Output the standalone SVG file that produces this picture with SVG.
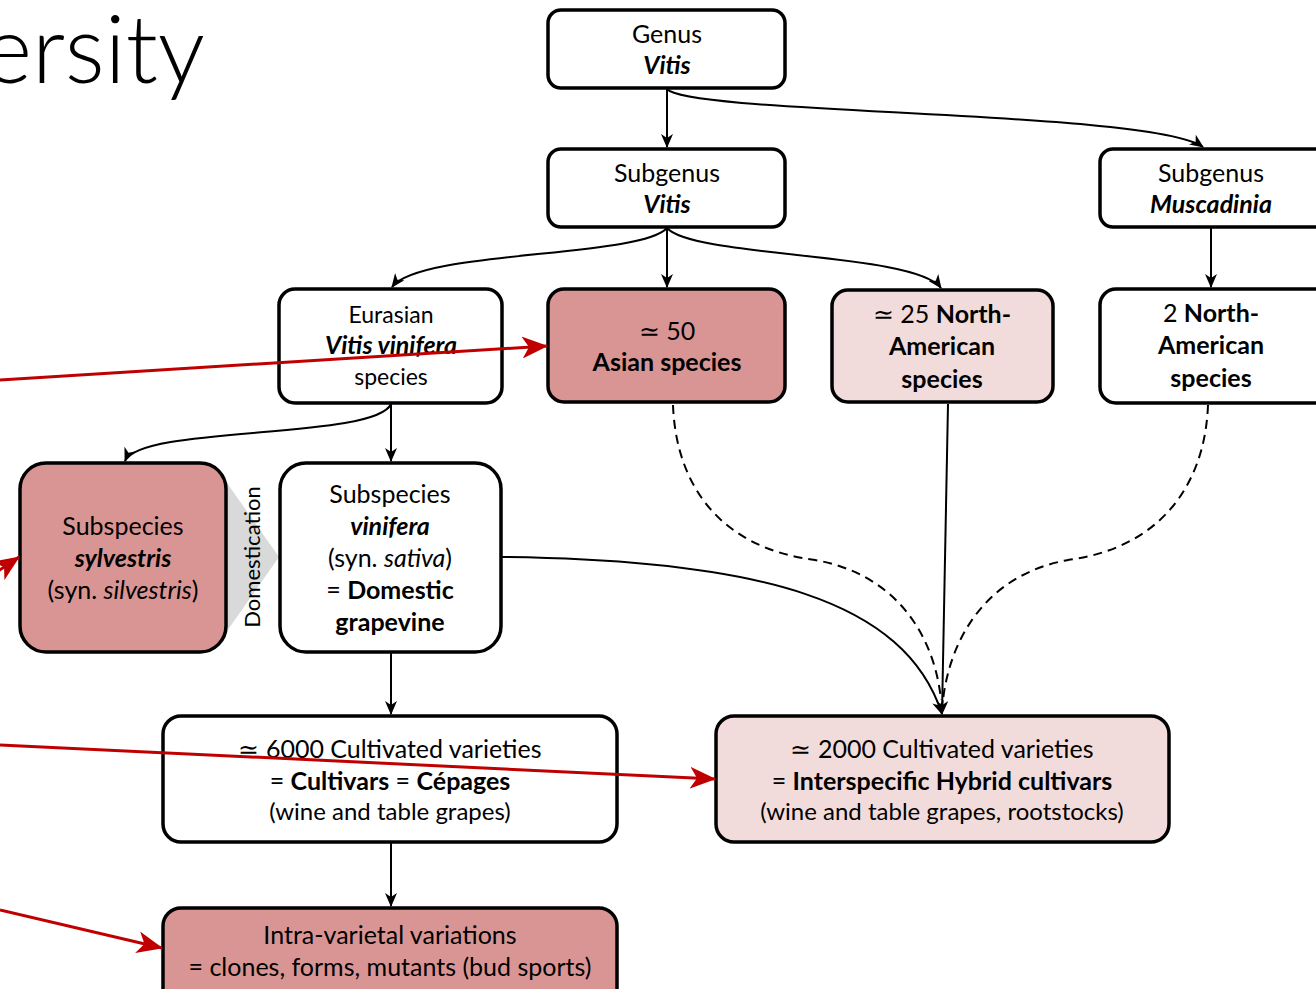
<svg xmlns="http://www.w3.org/2000/svg" width="1316" height="989" viewBox="0 0 1316 989">
<style>
.box{stroke:#000;stroke-width:3.5;}
.w{fill:#fff}.r{fill:#d99594}.p{fill:#f2dcdb}
text{font-family:Lato,"Open Sans","Liberation Sans",sans-serif;font-size:25px;fill:#000;text-anchor:middle}
.b{font-weight:bold}.i{font-style:italic}.s{font-size:23px}.m{font-size:24px}
.c{fill:none;stroke:#000;stroke-width:2}
.d{fill:none;stroke:#000;stroke-width:2;stroke-dasharray:9 6}
.red{fill:none;stroke:#c00000;stroke-width:3}
</style>
<defs>
<marker id="ah" markerUnits="userSpaceOnUse" markerWidth="14" markerHeight="12" refX="13" refY="6" orient="auto" viewBox="0 0 14 12"><path d="M0,0 L14,6 L0,12 L4,6 z" fill="#000"/></marker>
<marker id="rh" markerUnits="userSpaceOnUse" markerWidth="26" markerHeight="22" refX="25" refY="11" orient="auto" viewBox="0 0 26 22"><path d="M0,0 L26,11 L0,22 L7,11 z" fill="#c00000"/></marker>
</defs>
<rect width="1316" height="989" fill="#fff"/>
<text x="205" y="83" style="font-size:94px;font-weight:300;text-anchor:end">ersity</text>

<g id="domestication">
<path d="M227,483 L279,557 L227,631 z" fill="#d9d9d9"/>
<text transform="translate(260,557) rotate(-90)" style="font-size:22px">Domestication</text>
</g>

<g id="connectors">
<path class="c" d="M667,89 L667,147" marker-end="url(#ah)"/>
<path class="c" d="M667,89 C690,115 1150,110 1203,147" marker-end="url(#ah)"/>
<path class="c" d="M667,228 L667,287" marker-end="url(#ah)"/>
<path class="c" d="M667,228 C640,258 420,250 392,287" marker-end="url(#ah)"/>
<path class="c" d="M667,228 C694,258 915,252 941,288" marker-end="url(#ah)"/>
<path class="c" d="M1211,228 L1211,287" marker-end="url(#ah)"/>
<path class="c" d="M391,404 L391,461" marker-end="url(#ah)"/>
<path class="c" d="M391,404 C375,440 140,425 125,461" marker-end="url(#ah)"/>
<path class="c" d="M391,653 L391,714" marker-end="url(#ah)"/>
<path class="c" d="M391,843 L391,906" marker-end="url(#ah)"/>
<path class="c" d="M502,557 C760,560 905,600 942,714" marker-end="url(#ah)"/>
<path class="d" d="M673,405 C676,485 720,548 815,560 C900,575 935,640 941,700"/>
<path class="d" d="M1208,405 C1205,485 1160,548 1068,560 C985,575 950,640 943,700"/>
<path class="c" d="M948,404 L942,714" marker-end="url(#ah)"/>
</g>

<g id="genus"><rect class="box w" x="548" y="10" width="237" height="78" rx="13"/>
<text x="667" y="43">Genus</text><text x="667" y="74" class="b i">Vitis</text></g>
<g id="subgenus-vitis"><rect class="box w" x="548" y="149" width="237" height="78" rx="13"/>
<text x="667" y="182">Subgenus</text><text x="667" y="213" class="b i">Vitis</text></g>
<g id="subgenus-muscadinia"><rect class="box w" x="1100" y="149" width="237" height="78" rx="13"/>
<text x="1211" y="182">Subgenus</text><text x="1211" y="213" class="b i">Muscadinia</text></g>
<g id="eurasian"><rect class="box w" x="279" y="289" width="223" height="114" rx="16"/>
<text x="391" y="323" class="s">Eurasian</text><text x="391" y="354" class="b i">Vitis vinifera</text><text x="391" y="385" class="s">species</text></g>
<g id="asian"><rect class="box r" x="548" y="289" width="237" height="113" rx="16"/>
<text x="667" y="340">≃ 50</text><text x="667" y="371" class="b">Asian species</text></g>
<g id="na25"><rect class="box p" x="832" y="290" width="221" height="112" rx="16"/>
<text x="942" y="323"><tspan>≃ 25 </tspan><tspan class="b">North-</tspan></text><text x="942" y="355" class="b">American</text><text x="942" y="388" class="b">species</text></g>
<g id="na2"><rect class="box w" x="1100" y="289" width="237" height="114" rx="16"/>
<text x="1211" y="322"><tspan>2 </tspan><tspan class="b">North-</tspan></text><text x="1211" y="354" class="b">American</text><text x="1211" y="387" class="b">species</text></g>
<g id="sylvestris"><rect class="box r" x="20" y="463" width="206" height="189" rx="26"/>
<text x="123" y="535">Subspecies</text><text x="123" y="567" class="b i">sylvestris</text><text x="123" y="599">(syn. <tspan class="i">silvestris</tspan>)</text></g>
<g id="vinifera"><rect class="box w" x="280" y="463" width="221" height="189" rx="26"/>
<text x="390" y="503">Subspecies</text><text x="390" y="535" class="b i">vinifera</text><text x="390" y="567">(syn. <tspan class="i">sativa</tspan>)</text><text x="390" y="599">= <tspan class="b">Domestic</tspan></text><text x="390" y="631" class="b">grapevine</text></g>
<g id="cultivars"><rect class="box w" x="163" y="716" width="454" height="126" rx="18"/>
<text x="390" y="758">≃ 6000 Cultivated varieties</text><text x="390" y="790">= <tspan class="b">Cultivars</tspan> = <tspan class="b">Cépages</tspan></text><text x="390" y="820" class="m">(wine and table grapes)</text></g>
<g id="hybrids"><rect class="box p" x="716" y="716" width="453" height="126" rx="18"/>
<text x="942" y="758">≃ 2000 Cultivated varieties</text><text x="942" y="790">= <tspan class="b">Interspecific Hybrid cultivars</tspan></text><text x="942" y="820" class="m">(wine and table grapes, rootstocks)</text></g>
<g id="intra"><rect class="box r" x="163" y="908" width="454" height="100" rx="18"/>
<text x="390" y="944">Intra-varietal variations</text><text x="390" y="976">= clones, forms, mutants (bud sports)</text></g>

<g id="red-arrows">
<path class="red" d="M0,380 L547,346" marker-end="url(#rh)"/>
<path class="red" d="M-30,590 L19,557" marker-end="url(#rh)"/>
<path class="red" d="M0,745 L715,779" marker-end="url(#rh)"/>
<path class="red" d="M0,910 L162,948" marker-end="url(#rh)"/>
</g>
</svg>
